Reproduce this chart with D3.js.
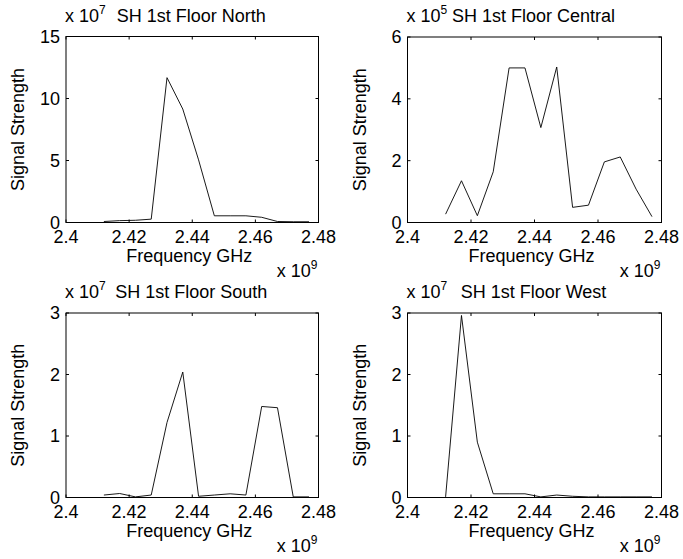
<!DOCTYPE html>
<html lang="en">
<head>
<meta charset="UTF-8">
<title>SH 1st Floor Signal Strength</title>
<script src="https://d3js.org/d3.v7.min.js"></script>
<style>
    body { margin: 0; background: #fff; }
    svg text { font-family: "Liberation Sans", Arial, sans-serif; fill: #000; }
</style>
</head>
<body>
<svg id="chart" width="683" height="559"></svg>
<script>
    // frequencies in units of 1e9 Hz (channels 1..14 spaced 5 MHz)
    const freqs = [2.412, 2.417, 2.422, 2.427, 2.432, 2.437, 2.442, 2.447, 2.452, 2.457, 2.462, 2.467, 2.472, 2.477];
    const xTicks = [2.4, 2.42, 2.44, 2.46, 2.48];

    const titles = ["SH 1st Floor North", "SH 1st Floor Central", "SH 1st Floor South", "SH 1st Floor West"];
    const exponents = [7, 5, 7, 7];
    const yMax = [15, 6, 3, 3];
    const yTicks = [[0, 5, 10, 15], [0, 2, 4, 6], [0, 1, 2, 3], [0, 1, 2, 3]];

    // signal strength, scaled by 10^exponent
    const north = [0.08, 0.15, 0.18, 0.27, 11.68, 9.15, 5.05, 0.54, 0.54, 0.54, 0.42, 0.08, 0.06, 0.06];
    const central = [0.27, 1.35, 0.22, 1.64, 5.0, 5.0, 3.07, 5.03, 0.49, 0.56, 1.96, 2.12, 1.08, 0.19];
    const south = [0.04, 0.065, 0.01, 0.04, 1.22, 2.04, 0.02, 0.04, 0.06, 0.04, 1.48, 1.46, 0.01, 0.01];
    const west = [0.01, 2.96, 0.9, 0.06, 0.06, 0.06, 0.01, 0.04, 0.02, 0.01, 0.01, 0.01, 0.01, 0.01];
    const series = [north, central, south, west];

    // axes boxes: [left, right, top, bottom]
    const boxes = [
        [66, 318.5, 36.5, 222.5],
        [407.5, 661.5, 37, 222.5],
        [66, 318.5, 313, 497.5],
        [407.5, 661.5, 313, 497.5]
    ];

    const svg = d3.select("#chart");
    const fontSize = 18;
    const supSize = 12;
    const tickLen = 3;

    boxes.forEach(function (b, i) {
        const [x0, x1, y0, y1] = b;
        const x = d3.scaleLinear().domain([2.4, 2.48]).range([x0, x1]);
        const y = d3.scaleLinear().domain([0, yMax[i]]).range([y1, y0]);
        const g = svg.append("g");

        // box
        g.append("rect")
            .attr("x", x0).attr("y", y0)
            .attr("width", x1 - x0).attr("height", y1 - y0)
            .attr("fill", "none").attr("stroke", "#000").attr("stroke-width", 1);

        // inward ticks on all four sides
        xTicks.forEach(function (t) {
            g.append("line").attr("x1", x(t)).attr("x2", x(t)).attr("y1", y1).attr("y2", y1 - tickLen)
                .attr("stroke", "#000");
            g.append("line").attr("x1", x(t)).attr("x2", x(t)).attr("y1", y0).attr("y2", y0 + tickLen)
                .attr("stroke", "#000");
            g.append("text").attr("x", x(t)).attr("y", y1 + 20)
                .attr("text-anchor", "middle").attr("font-size", fontSize)
                .text(t);
        });
        yTicks[i].forEach(function (t) {
            g.append("line").attr("x1", x0).attr("x2", x0 + tickLen).attr("y1", y(t)).attr("y2", y(t))
                .attr("stroke", "#000");
            g.append("line").attr("x1", x1).attr("x2", x1 - tickLen).attr("y1", y(t)).attr("y2", y(t))
                .attr("stroke", "#000");
            g.append("text").attr("x", x0 - 6).attr("y", y(t))
                .attr("dy", "0.35em")
                .attr("text-anchor", "end").attr("font-size", fontSize)
                .text(t);
        });

        // data line
        const line = d3.line()
            .x(function (d, k) { return x(freqs[k]); })
            .y(function (d) { return y(d); });
        g.append("path")
            .datum(series[i])
            .attr("d", line)
            .attr("fill", "none")
            .attr("stroke", "#000")
            .attr("stroke-width", 0.9);

        // title
        g.append("text").attr("x", (x0 + x1) / 2 - 1).attr("y", y0 - 15)
            .attr("text-anchor", "middle").attr("font-size", fontSize)
            .text(titles[i]);

        // y multiplier
        const ym = g.append("text").attr("x", x0 - 1).attr("y", y0 - 15).attr("font-size", fontSize);
        ym.append("tspan").text("x 10");
        ym.append("tspan").attr("dy", -8).attr("font-size", supSize).text(exponents[i]);

        // x multiplier
        const xm = g.append("text").attr("x", x1 - 1).attr("y", y1 + 54)
            .attr("text-anchor", "end").attr("font-size", fontSize);
        xm.append("tspan").text("x 10");
        xm.append("tspan").attr("dy", -8).attr("font-size", supSize).text("9");

        // axis labels
        g.append("text").attr("x", (x0 + x1) / 2 - 3).attr("y", y1 + 39)
            .attr("text-anchor", "middle").attr("font-size", fontSize)
            .text("Frequency GHz");
        g.append("text")
            .attr("transform", "translate(" + (x0 - 42) + "," + ((y0 + y1) / 2) + ") rotate(-90)")
            .attr("text-anchor", "middle").attr("font-size", fontSize)
            .text("Signal Strength");
    });
</script>
</body>
</html>
